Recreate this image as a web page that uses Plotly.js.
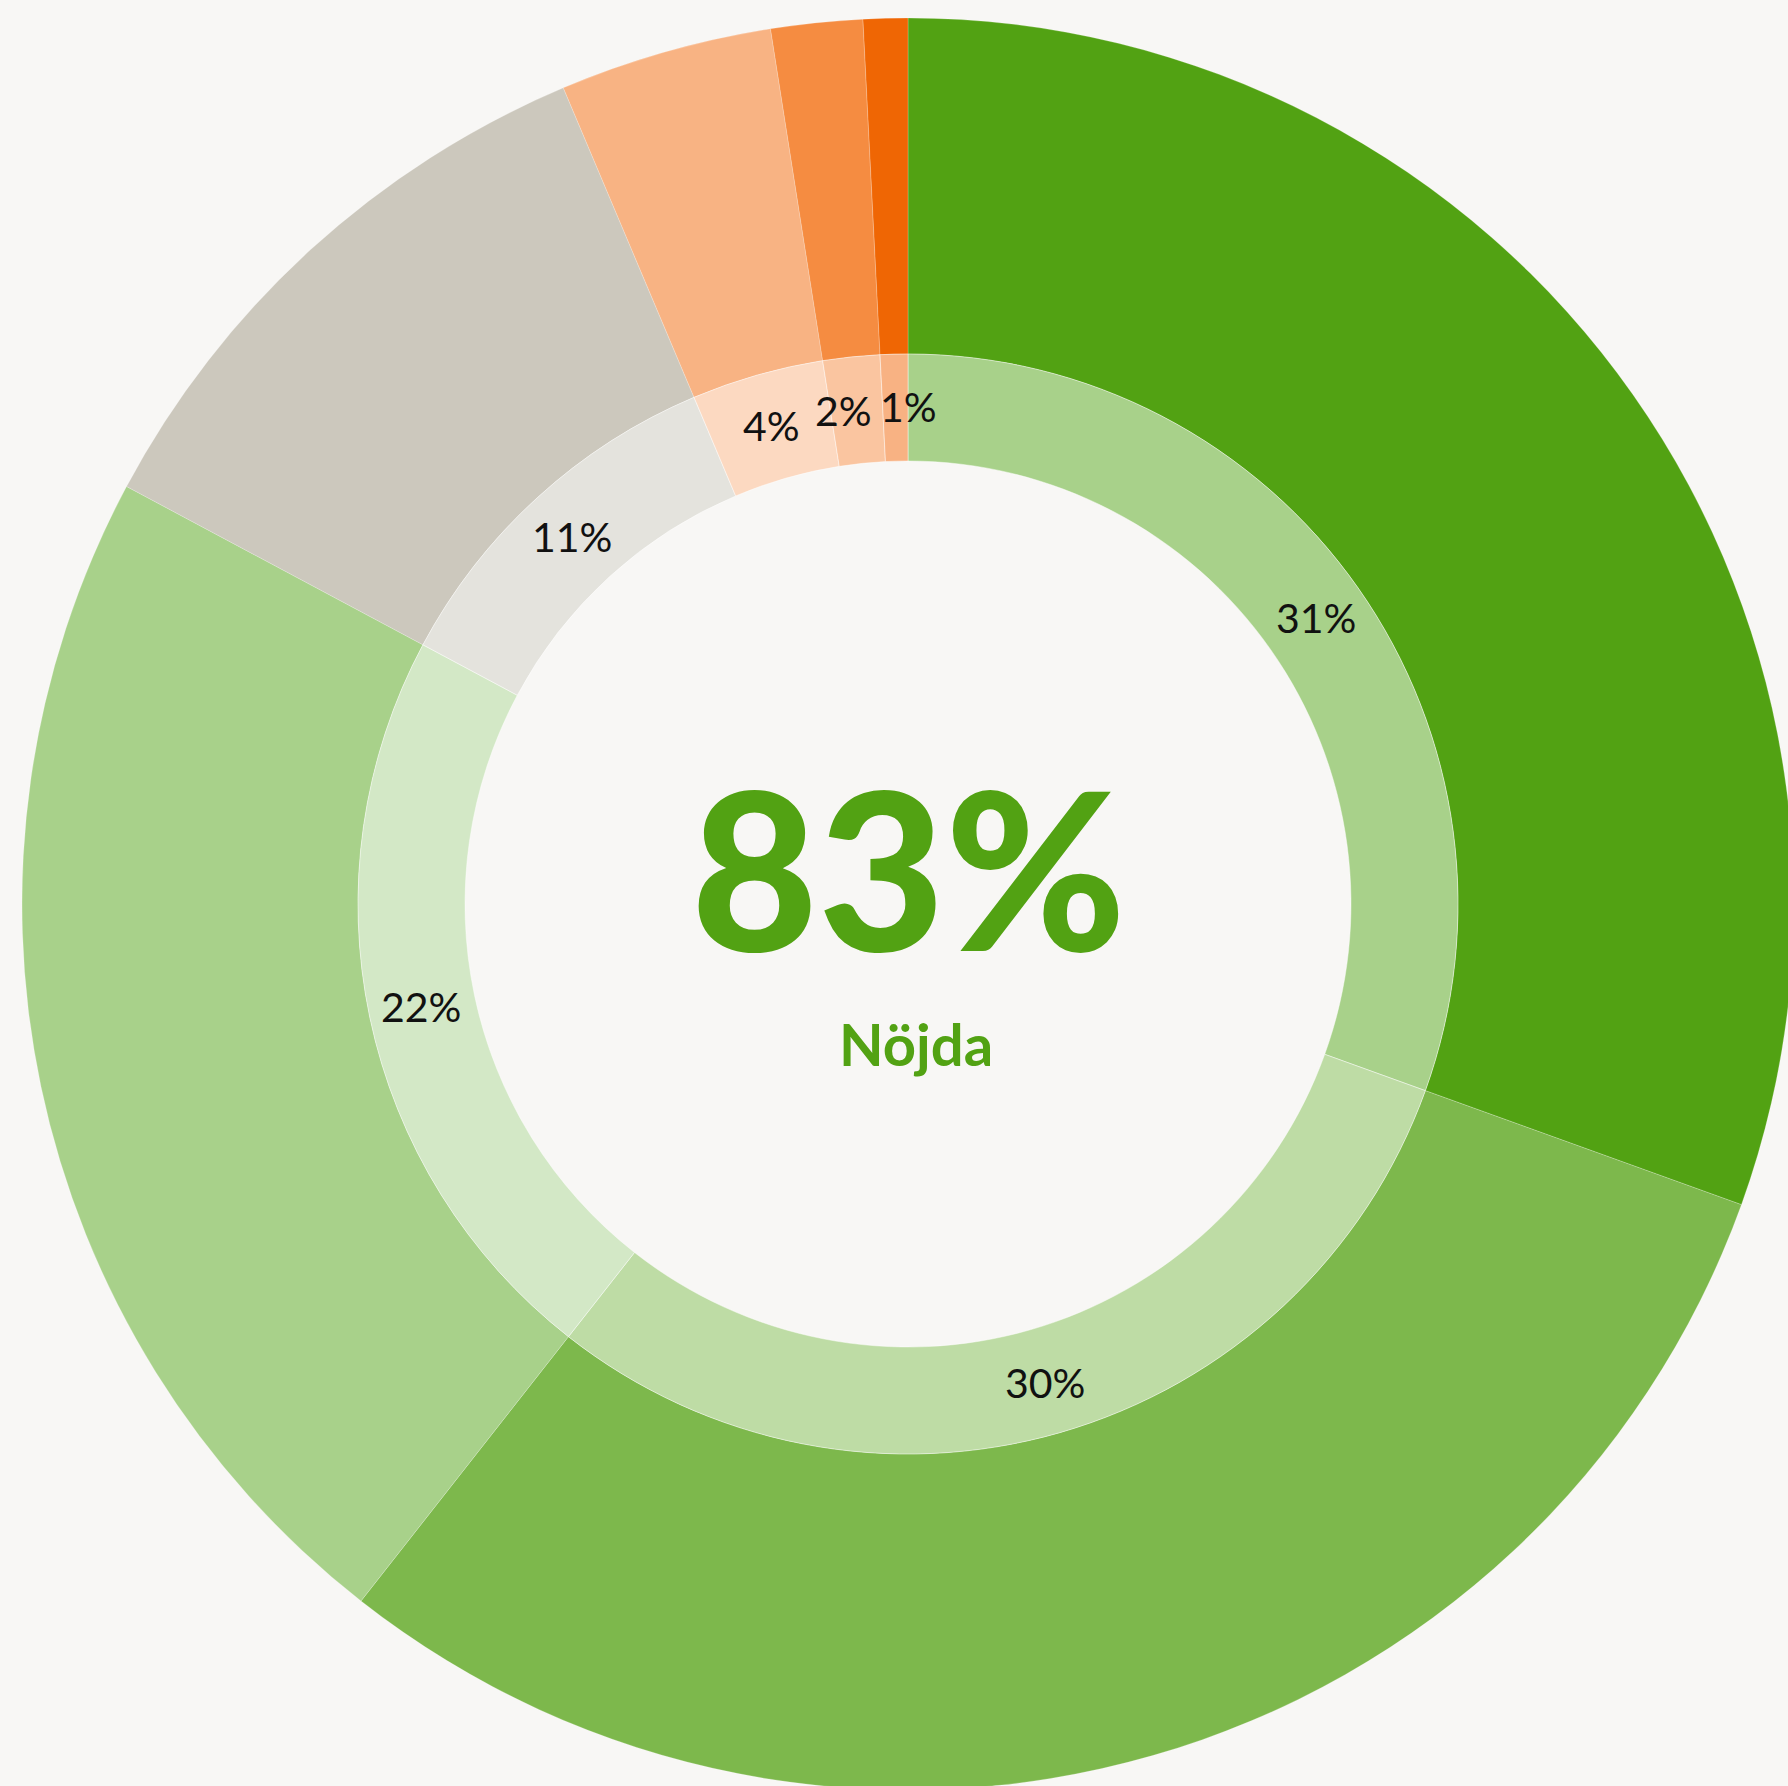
<!DOCTYPE html>
<html>
<head>
<meta charset="utf-8">
<script src="https://cdn.plot.ly/plotly-3.0.1.min.js"></script>
<style>
html,body{margin:0;padding:0;background:#f8f7f5;overflow:hidden;width:1788px;height:1786px}
#chart{width:1800px;height:1800px}
</style>
</head>
<body>
<div id="chart"></div>
<script>
// Data
const categories = ['Mycket nöjd', 'Nöjd', 'Ganska nöjd', 'Varken eller', 'Ganska missnöjd', 'Missnöjd', 'Mycket missnöjd'];
const shares = [30.51, 30.08, 22.22, 10.83, 3.88, 1.67, 0.81];
const shareLabels = ['31%', '30%', '22%', '11%', '4%', '2%', '1%'];
const centerValue = '83%';
const centerLabel = 'Nöjda';

// Styles
const outerColors = ['#52a213', '#7db84c', '#a8d18a', '#ccc8bd', '#f8b383', '#f58c41', '#ef6604'];
const innerColors = ['#a8d18a', '#bedca5', '#d3e8c6', '#e4e3dd', '#fcd9c1', '#fac5a0', '#f8b283'];
const bg = '#f8f7f5';
const accent = '#52a213';
const font = 'Lato, "Open Sans", sans-serif';

const W = 1800, H = 1800;
const cx = 908, cy = 904;          // centre in page pixels (from top)
const rOuter = 886, rMid = 550, rHole = 443;
const rLabel = 498;

function dom(r) {
  const cyb = H - cy;
  return {
    x: [(cx - r) / W, (cx + r) / W],
    y: [(cyb - r) / H, (cyb + r) / H]
  };
}

const outer = {
  type: 'pie',
  labels: categories,
  values: shares,
  sort: false,
  direction: 'clockwise',
  rotation: 0,
  hole: rMid / rOuter,
  domain: dom(rOuter),
  marker: {colors: outerColors, line: {color: 'rgba(255,255,255,0.35)', width: 0.6}},
  textinfo: 'none',
  hoverinfo: 'skip',
  showlegend: false
};

const inner = {
  type: 'pie',
  labels: categories,
  values: shares,
  sort: false,
  direction: 'clockwise',
  rotation: 0,
  hole: rHole / rMid,
  domain: dom(rMid),
  marker: {colors: innerColors, line: {color: 'rgba(255,255,255,0.55)', width: 0.8}},
  textinfo: 'none',
  hoverinfo: 'skip',
  showlegend: false
};

// Label angles: mid-angle of each slice (clockwise from 12 o'clock),
// nudged apart when neighbouring labels would collide.
const total = shares.reduce((a, b) => a + b, 0);
let cum = 0;
const ang = shares.map(v => { const m = (cum + v / 2) / total * 360; cum += v; return m; });
const minGap = 7.6;
for (let it = 0; it < 40; it++) {
  for (let i = 0; i < ang.length; i++) {
    const j = (i + 1) % ang.length;
    let gap = ang[j] - ang[i];
    if (gap < 0) gap += 360;
    if (gap < minGap) {
      const d = (minGap - gap) / 2;
      ang[i] -= d;
      ang[j] += d;
    }
  }
}

const labelAnnotations = shareLabels.map((t, i) => {
  const a = ang[i] * Math.PI / 180;
  const px = cx + rLabel * Math.sin(a);
  const py = cy - rLabel * Math.cos(a);
  return {
    text: t,
    xref: 'paper', yref: 'paper',
    x: px / W, y: (H - py) / H,
    xanchor: 'center', yanchor: 'middle',
    showarrow: false,
    font: {family: font, size: 41, color: '#111111'}
  };
});

const layout = {
  width: W,
  height: H,
  margin: {l: 0, r: 0, t: 0, b: 0, pad: 0},
  paper_bgcolor: bg,
  plot_bgcolor: bg,
  showlegend: false,
  annotations: labelAnnotations.concat([
    {
      text: centerValue,
      xref: 'paper', yref: 'paper',
      x: cx / W, y: (H - 866) / H,
      xanchor: 'center', yanchor: 'middle',
      showarrow: false,
      font: {family: font, size: 219, color: accent, weight: 900}
    },
    {
      text: centerLabel,
      xref: 'paper', yref: 'paper',
      x: 916 / W, y: (H - 1043) / H,
      xanchor: 'center', yanchor: 'middle',
      showarrow: false,
      font: {family: font, size: 58, color: accent, weight: 700}
    }
  ])
};

Plotly.newPlot('chart', [outer, inner], layout, {staticPlot: true, displayModeBar: false});
</script>
</body>
</html>
